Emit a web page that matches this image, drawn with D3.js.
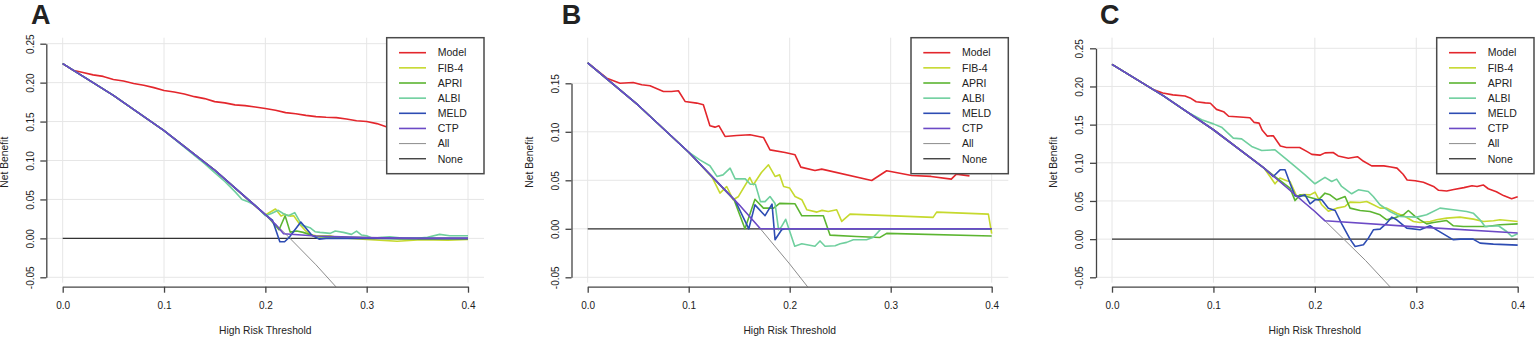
<!DOCTYPE html>
<html lang="en">
<head>
<meta charset="UTF-8">
<title>Decision curves</title>
<script src="https://cdn.jsdelivr.net/npm/d3@7"></script>
<style>
  body { margin: 0; background: #fff; }
  svg text { font-family: "Liberation Sans", Arial, sans-serif; fill: #222; }
</style>
</head>
<body>
<script>
// legend order = series order
var seriesNames = ["Model", "FIB-4", "APRI", "ALBI", "MELD", "CTP", "All", "None"]
var seriesColors = ["#e3262c", "#c6d92e", "#5cb531", "#6fcf9e", "#2d4cb3", "#6c4ac6", "#8c8c8c", "#333333"]
var panelLabels = ["A", "B", "C"]

var xTicks = [0, 0.1, 0.2, 0.3, 0.4]
var yTicksA = [-0.05, 0, 0.05, 0.10, 0.15, 0.20, 0.25]
var yTicksB = [-0.05, 0, 0.05, 0.10, 0.15]
var yTicksC = [-0.05, 0, 0.05, 0.10, 0.15, 0.20, 0.25]

// [threshold, net benefit]
// ---- panel A
var A_model = [[0,0.2245],[0.01,0.216],[0.02,0.213],[0.03,0.210],[0.04,0.208],[0.05,0.204],[0.06,0.202],[0.07,0.199],[0.08,0.1966],[0.09,0.1936],[0.10,0.190],[0.11,0.188],[0.12,0.1855],[0.13,0.182],[0.14,0.1795],[0.15,0.1756],[0.16,0.174],[0.17,0.1714],[0.18,0.1705],[0.19,0.1688],[0.20,0.1667],[0.21,0.1645],[0.22,0.1615],[0.23,0.160],[0.24,0.158],[0.25,0.1564],[0.26,0.1556],[0.27,0.1551],[0.28,0.1534],[0.29,0.151],[0.30,0.150],[0.31,0.1474],[0.32,0.143],[0.33,0.141],[0.34,0.139],[0.35,0.137],[0.36,0.135],[0.37,0.133],[0.38,0.131],[0.39,0.129],[0.40,0.127]]
var A_fib4 = [[0,0.2245],[0.05,0.1837],[0.1,0.1383],[0.15,0.0876],[0.2,0.030],[0.21,0.0377],[0.2155,0.0286],[0.219,0.031],[0.2243,0.0286],[0.228,0.029],[0.234,0.018],[0.239,0.0107],[0.244,0.005],[0.25,0.0034],[0.264,0.0034],[0.27,0.0013],[0.3,-0.0013],[0.33,-0.0038],[0.35,-0.002],[0.366,-0.002],[0.38,-0.0025],[0.4,-0.0013]]
var A_apri = [[0,0.2245],[0.05,0.1837],[0.1,0.1383],[0.15,0.0876],[0.2,0.0306],[0.205,0.024],[0.2135,0.011],[0.2195,0.029],[0.2245,0.008],[0.231,0.0094],[0.2374,0.0077],[0.25,0.002],[0.3,0.001],[0.333,-0.0009],[0.4,-0.0009]]
var A_albi = [[0,0.2245],[0.05,0.1837],[0.1,0.1383],[0.14,0.096],[0.15,0.0845],[0.16,0.073],[0.17,0.060],[0.177,0.050],[0.183,0.047],[0.19,0.0426],[0.2,0.029],[0.206,0.032],[0.2127,0.036],[0.2176,0.032],[0.2226,0.029],[0.229,0.033],[0.236,0.017],[0.244,0.0137],[0.249,0.0085],[0.254,0.0077],[0.264,0.0064],[0.269,0.0094],[0.277,0.0077],[0.285,0.0051],[0.29,0.0094],[0.295,0.0043],[0.3,0.0034],[0.306,0],[0.315,0.0015],[0.3228,0.002],[0.335,0.0005],[0.349,0],[0.36,0.0015],[0.372,0.0051],[0.382,0.0034],[0.4,0.0034]]
var A_meld = [[0,0.2245],[0.05,0.1837],[0.1,0.1383],[0.15,0.0876],[0.2,0.0306],[0.207,0.0235],[0.2143,-0.0043],[0.219,-0.0043],[0.224,0.002],[0.235,0.021],[0.2457,0.0043],[0.253,-0.001],[0.26,0],[0.4,0]]
var A_ctp = [[0,0.2245],[0.05,0.1837],[0.1,0.1383],[0.15,0.0876],[0.2,0.0306],[0.21,0.0181],[0.218,0.006],[0.25,0.003],[0.3,0.001],[0.35,0],[0.4,0]]
var A_all = [[0,0.2245],[0.05,0.1837],[0.1,0.1383],[0.15,0.0876],[0.2,0.0306],[0.22,0.0057],[0.25,-0.034],[0.28,-0.077]]
var A_none = [[0,0],[0.4,0]]

// ---- panel B
var B_model = [[0,0.171],[0.019,0.1553],[0.032,0.150],[0.045,0.1509],[0.0535,0.1485],[0.0617,0.1474],[0.075,0.1416],[0.083,0.1416],[0.0898,0.1423],[0.0964,0.1313],[0.108,0.1296],[0.1145,0.1278],[0.121,0.1062],[0.126,0.1048],[0.130,0.1062],[0.136,0.0952],[0.1475,0.0962],[0.1607,0.0969],[0.174,0.0942],[0.1805,0.0814],[0.1954,0.0787],[0.2053,0.0763],[0.211,0.0636],[0.225,0.0601],[0.2317,0.0615],[0.2812,0.0498],[0.296,0.0598],[0.3208,0.055],[0.34,0.054],[0.36,0.0512],[0.365,0.0564],[0.378,0.0546]]
var B_fib4 = [[0,0.171],[0.05,0.1274],[0.1,0.0789],[0.123,0.0535],[0.131,0.0368],[0.1376,0.0436],[0.144,0.030],[0.149,0.033],[0.1605,0.0529],[0.164,0.0454],[0.172,0.058],[0.179,0.066],[0.1855,0.054],[0.19,0.0556],[0.194,0.0436],[0.2,0.042],[0.2053,0.0333],[0.212,0.030],[0.217,0.0196],[0.227,0.0172],[0.232,0.019],[0.2382,0.0179],[0.2465,0.0196],[0.2515,0.0076],[0.2597,0.0151],[0.342,0.0118],[0.3455,0.0172],[0.3967,0.0151],[0.4,-0.005]]
var B_apri = [[0,0.171],[0.05,0.1274],[0.1,0.0789],[0.145,0.0298],[0.1557,0],[0.1656,0.0305],[0.174,0.0213],[0.184,0.0213],[0.19,0.0262],[0.2053,0.0258],[0.212,0.0134],[0.2333,0.0134],[0.2399,-0.0065],[0.266,-0.0079],[0.2894,-0.0089],[0.296,-0.0047],[0.4,-0.0075]]
var B_albi = [[0,0.171],[0.05,0.1274],[0.1,0.0789],[0.111,0.071],[0.121,0.065],[0.128,0.054],[0.134,0.0556],[0.141,0.0625],[0.146,0.0515],[0.156,0.0515],[0.161,0.046],[0.166,0.046],[0.171,0.028],[0.1756,0.028],[0.1805,0.0333],[0.1855,0.026],[0.189,-0.001],[0.192,0.0024],[0.196,0.0098],[0.205,-0.018],[0.212,-0.0155],[0.225,-0.018],[0.230,-0.0125],[0.235,-0.018],[0.245,-0.0175],[0.25,-0.0155],[0.2564,-0.014],[0.263,-0.0113],[0.276,-0.0113],[0.283,-0.0086],[0.2905,0],[0.4,0]]
var B_meld = [[0,0.171],[0.05,0.1274],[0.1,0.0789],[0.146,0.0292],[0.1595,0],[0.1656,0.0247],[0.1756,0.0135],[0.1825,0.0255],[0.1855,-0.0113],[0.192,-0.001],[0.1954,0],[0.4,0]]
var B_ctp = [[0,0.171],[0.05,0.1274],[0.1,0.0789],[0.15,0.0247],[0.171,0],[0.4,0]]
var B_all = [[0,0.171],[0.05,0.1274],[0.1,0.0789],[0.15,0.0247],[0.171,0],[0.2,-0.0363],[0.22,-0.0628]]
var B_none = [[0,0],[0.4,0]]

// ---- panel C
var C_model = [[0,0.229],[0.04,0.1965],[0.05,0.1915],[0.06,0.189],[0.072,0.1875],[0.077,0.185],[0.083,0.180],[0.092,0.1785],[0.097,0.178],[0.103,0.170],[0.11,0.167],[0.115,0.161],[0.126,0.160],[0.136,0.159],[0.14,0.153],[0.145,0.152],[0.148,0.143],[0.153,0.135],[0.159,0.1355],[0.166,0.122],[0.172,0.120],[0.185,0.120],[0.192,0.115],[0.197,0.111],[0.205,0.110],[0.21,0.113],[0.218,0.1135],[0.223,0.109],[0.233,0.106],[0.242,0.108],[0.248,0.102],[0.256,0.096],[0.268,0.096],[0.275,0.0945],[0.281,0.093],[0.287,0.085],[0.291,0.0775],[0.299,0.0765],[0.307,0.0745],[0.317,0.069],[0.322,0.064],[0.330,0.063],[0.337,0.065],[0.347,0.0675],[0.355,0.070],[0.36,0.069],[0.366,0.071],[0.371,0.066],[0.379,0.062],[0.386,0.057],[0.394,0.053],[0.4,0.0555]]
var C_fib4 = [[0,0.229],[0.05,0.1884],[0.1,0.1433],[0.15,0.0929],[0.1558,0.082],[0.1607,0.0725],[0.1656,0.080],[0.1722,0.0765],[0.1755,0.0755],[0.182,0.0565],[0.1886,0.0585],[0.1953,0.058],[0.2002,0.0615],[0.2068,0.045],[0.2133,0.0365],[0.2216,0.0406],[0.2298,0.0428],[0.2347,0.0485],[0.2446,0.048],[0.2511,0.0493],[0.2577,0.045],[0.2643,0.0406],[0.2709,0.0406],[0.2807,0.034],[0.289,0.0297],[0.2972,0.0231],[0.3037,0.0218],[0.3136,0.0231],[0.32,0.0253],[0.33,0.0275],[0.343,0.0288],[0.3564,0.0262],[0.3662,0.0231],[0.3761,0.024],[0.3826,0.0253],[0.4,0.0231]]
var C_apri = [[0,0.229],[0.05,0.1884],[0.1,0.1433],[0.15,0.0929],[0.1755,0.0668],[0.1805,0.0505],[0.1854,0.058],[0.192,0.0558],[0.2035,0.0515],[0.21,0.0602],[0.215,0.058],[0.2216,0.0515],[0.2298,0.0558],[0.2347,0.0406],[0.2446,0.0375],[0.2544,0.0362],[0.2643,0.0318],[0.2709,0.0253],[0.2775,0.0275],[0.2873,0.0318],[0.2922,0.0375],[0.2988,0.0297],[0.3037,0.0253],[0.3103,0.020],[0.3169,0.0218],[0.33,0.0244],[0.3366,0.0175],[0.3465,0.0166],[0.3695,0.0166],[0.3826,0.0188],[0.4,0.020]]
var C_albi = [[0,0.229],[0.05,0.1884],[0.062,0.1775],[0.075,0.166],[0.0884,0.1563],[0.1,0.151],[0.108,0.1467],[0.1196,0.1323],[0.1278,0.1314],[0.1377,0.1214],[0.1476,0.1162],[0.1607,0.117],[0.1706,0.1061],[0.1804,0.0952],[0.1903,0.0843],[0.2001,0.0725],[0.21,0.081],[0.2166,0.0755],[0.2215,0.0786],[0.2264,0.069],[0.2363,0.0594],[0.2429,0.0646],[0.2527,0.0624],[0.2576,0.0559],[0.2642,0.045],[0.274,0.0362],[0.2839,0.0297],[0.3004,0.0288],[0.3102,0.0319],[0.3234,0.0406],[0.3365,0.0384],[0.3497,0.0362],[0.3562,0.034],[0.3628,0.0253],[0.3678,0.0166],[0.381,0.0175],[0.3891,0.010],[0.3941,0.0035],[0.4,0.007]]
var C_meld = [[0,0.229],[0.05,0.1884],[0.1,0.1433],[0.15,0.0929],[0.159,0.082],[0.1657,0.0908],[0.1706,0.0908],[0.1755,0.0733],[0.1805,0.0567],[0.1854,0.0558],[0.1903,0.058],[0.1953,0.0462],[0.2002,0.0515],[0.2068,0.0515],[0.2133,0.0406],[0.22,0.0375],[0.2265,0.020],[0.2347,0],[0.2397,-0.0096],[0.2479,-0.0074],[0.2528,0.0013],[0.2577,0.0122],[0.2643,0.0131],[0.2709,0.021],[0.2758,0.0288],[0.2807,0.0253],[0.2906,0.0144],[0.3037,0.0122],[0.3136,0.0175],[0.32,0.0122],[0.3366,-0.0009],[0.3432,0],[0.356,0],[0.3629,-0.0052],[0.376,-0.0065],[0.4,-0.0079]]
var C_ctp = [[0,0.229],[0.05,0.1884],[0.1,0.1433],[0.15,0.0929],[0.2,0.0362],[0.21,0.024],[0.3,0.016],[0.4,0.008]]
var C_all = [[0,0.229],[0.05,0.1884],[0.1,0.1433],[0.15,0.0929],[0.2,0.0362],[0.21,0.024],[0.25,-0.028],[0.28,-0.0708]]
var C_none = [[0,0],[0.4,0]]

// layout of the three panels (pixels)
var panels = [
    { label: panelLabels[0], left: 46.3, right: 484, x0: 62.7, x1: 468, yTicks: yTicksA, yr: [277.3, 43.7], letterX: 31,
      series: [A_model, A_fib4, A_apri, A_albi, A_meld, A_ctp, A_all, A_none] },
    { label: panelLabels[1], left: 571.5, right: 1008.3, x0: 587.7, x1: 991.7, yTicks: yTicksB, yr: [277.3, 83.3], letterX: 561.7,
      series: [B_model, B_fib4, B_apri, B_albi, B_meld, B_ctp, B_all, B_none] },
    { label: panelLabels[2], left: 1096, right: 1534, x0: 1112, x1: 1517.7, yTicks: yTicksC, yr: [277.3, 48.3], letterX: 1100,
      series: [C_model, C_fib4, C_apri, C_albi, C_meld, C_ctp, C_all, C_none] }
]

var width = 1535, height = 337
var plotTop = 37.7, axisY = 286.7

var fmt = d3.formatLocale({ decimal: ".", thousands: ",", grouping: [3], currency: ["", ""], minus: "-" })
var fmtX = fmt.format(".1f"), fmtY = fmt.format(".2f")

var svg = d3.select("body").append("svg")
    .attr("width", width)
    .attr("height", height)

// draw order: reference lines first, CTP last
var drawOrder = [7, 6, 0, 1, 2, 3, 4, 5]

panels.forEach(function(p, pi) {
    var x = d3.scaleLinear().domain([0, 0.4]).range([p.x0, p.x1])
    var yExt = d3.extent(p.yTicks)
    var y = d3.scaleLinear().domain(yExt).range(p.yr)

    var g = svg.append("g")

    // grid
    g.selectAll(".vgrid").data(xTicks).enter().append("line")
        .attr("x1", function(d) { return x(d) }).attr("x2", function(d) { return x(d) })
        .attr("y1", plotTop).attr("y2", axisY - 4)
        .attr("stroke", "#e6e6e6").attr("stroke-width", 1)
    g.selectAll(".hgrid").data(p.yTicks).enter().append("line")
        .attr("x1", p.left).attr("x2", p.right)
        .attr("y1", function(d) { return y(d) }).attr("y2", function(d) { return y(d) })
        .attr("stroke", "#e6e6e6").attr("stroke-width", 1)

    // clip to plot region
    var clipId = "clip" + pi
    svg.append("clipPath").attr("id", clipId).append("rect")
        .attr("x", p.left).attr("y", plotTop)
        .attr("width", p.right - p.left).attr("height", axisY - plotTop)

    var line = d3.line()
        .x(function(d) { return x(d[0]) })
        .y(function(d) { return y(d[1]) })

    var curves = g.append("g").attr("clip-path", "url(#" + clipId + ")")
    drawOrder.forEach(function(si) {
        curves.append("path")
            .datum(p.series[si])
            .attr("d", line)
            .attr("fill", "none")
            .attr("stroke", seriesColors[si])
            .attr("stroke-width", si == 6 ? 1 : (si == 7 ? 1.3 : 1.6))
            .attr("stroke-linejoin", "round")
    })

    // axes
    var xAxis = g.append("g")
        .attr("transform", "translate(0," + axisY + ")")
        .call(d3.axisBottom(x).tickValues(xTicks).tickFormat(fmtX).tickSize(6).tickSizeOuter(0))
    xAxis.select(".domain").attr("stroke", "#444").attr("stroke-width", 1.3)
    xAxis.selectAll(".tick line").attr("stroke", "#444").attr("stroke-width", 1.3)
    xAxis.selectAll("text").attr("font-size", "10px").attr("fill", "#222")
        .attr("y", 0).attr("dy", null).attr("transform", "translate(0,22.5)")

    var yAxis = g.append("g")
        .attr("transform", "translate(" + p.left + ",0)")
        .call(d3.axisLeft(y).tickValues(p.yTicks).tickFormat(fmtY).tickSize(6).tickSizeOuter(0))
    yAxis.select(".domain").attr("stroke", "#444").attr("stroke-width", 1.3)
    yAxis.selectAll(".tick line").attr("stroke", "#444").attr("stroke-width", 1.3)
    yAxis.selectAll("text").attr("font-size", "10px").attr("fill", "#222")
        .attr("x", 0).attr("y", 0).attr("dy", null)
        .attr("transform", "translate(-12.7,0) rotate(-90)")
        .style("text-anchor", "middle")

    // axis titles
    g.append("text")
        .attr("x", (p.x0 + p.x1) / 2).attr("y", 334)
        .attr("text-anchor", "middle").attr("font-size", "10.3px")
        .text("High Risk Threshold")
    g.append("text")
        .attr("transform", "translate(" + (p.left - 38.8) + "," + ((plotTop + axisY) / 2) + ") rotate(-90)")
        .attr("text-anchor", "middle").attr("font-size", "10.3px")
        .text("Net Benefit")

    // panel letter
    g.append("text")
        .attr("x", p.letterX).attr("y", 24)
        .attr("font-size", "27px").attr("font-weight", "bold").attr("fill", "#000")
        .text(p.label)

    // legend
    var lw = 97.3, lh = 136
    var lg = g.append("g").attr("transform", "translate(" + (p.right - lw) + "," + plotTop + ")")
    lg.append("rect")
        .attr("width", lw).attr("height", lh)
        .attr("fill", "#fff").attr("stroke", "#4a4a4a").attr("stroke-width", 1.5)
    var rows = lg.selectAll(".row").data(seriesNames).enter().append("g")
        .attr("transform", function(d, i) { return "translate(0," + (15 + i * 15.15) + ")" })
    rows.append("line")
        .attr("x1", 12.3).attr("x2", 39.3)
        .attr("stroke", function(d, i) { return seriesColors[i] })
        .attr("stroke-width", function(d, i) { return i == 6 ? 1 : (i == 7 ? 1.3 : 1.6) })
    rows.append("text")
        .attr("x", 51).attr("dy", "0.36em")
        .attr("font-size", "10.5px")
        .text(function(d) { return d })
})
</script>
</body>
</html>
